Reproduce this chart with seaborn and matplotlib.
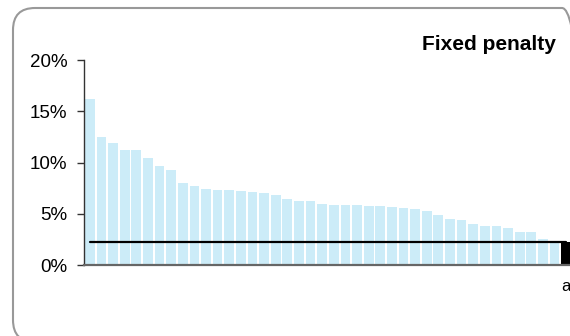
import numpy as np
import pandas as pd
import matplotlib
matplotlib.use('Agg')
import matplotlib.pyplot as plt
from matplotlib.patches import FancyBboxPatch
import seaborn as sns

# Values (percent), sorted high to low; last bar is the average
values = [16.2, 12.5, 11.9, 11.2, 11.2, 10.4, 9.7, 9.3, 8.0, 7.7,
          7.4, 7.3, 7.3, 7.2, 7.1, 7.0, 6.8, 6.4, 6.2, 6.2,
          6.0, 5.9, 5.9, 5.9, 5.8, 5.8, 5.7, 5.6, 5.5, 5.3,
          4.9, 4.5, 4.4, 4.0, 3.8, 3.8, 3.6, 3.2, 3.2, 2.5,
          2.3, 2.2]
average = 2.2
categories = [str(i) for i in range(1, len(values) + 1)]
tick_labels = [''] * (len(values) - 1) + ['a']
bar_colors = ['#CCECF8'] * (len(values) - 1) + ['#000000']
y_ticks = [0, 5, 10, 15, 20]
title = 'Fixed penalty'

df = pd.DataFrame({'cat': categories, 'val': values})

sns.set_style('white')
plt.rcParams['font.family'] = ['Liberation Sans', 'DejaVu Sans']
plt.rcParams['text.color'] = 'black'
plt.rcParams['xtick.color'] = 'black'
plt.rcParams['ytick.color'] = 'black'

fig = plt.figure(figsize=(5.7, 3.36), dpi=100)
ax = fig.add_axes([0.1474, 0.2113, 0.856, 0.6101])

sns.barplot(data=df, x='cat', y='val', hue='cat', palette=bar_colors,
            legend=False, width=0.84, saturation=1, linewidth=0, ax=ax)

# average line across all categories
ax.plot(np.arange(len(values)), [average] * len(values), color='black', lw=1.6, zorder=3)

ax.set_xlim(-0.5, len(values) - 0.5)
ax.set_ylim(0, 20)
ax.set_yticks(y_ticks)
ax.set_yticklabels([f'{t}%' for t in y_ticks])
ax.set_xticks(range(len(values)))
ax.set_xticklabels(tick_labels)
ax.set_xlabel('')
ax.set_ylabel('')

ax.tick_params(axis='y', direction='out', length=5, width=1, color='#333333',
               labelcolor='black', pad=7, labelsize=13.5, left=True)
ax.tick_params(axis='x', length=0, pad=10, labelsize=12, labelcolor='black')

for s in ['top', 'right']:
    ax.spines[s].set_visible(False)
ax.spines['left'].set_color('#333333')
ax.spines['left'].set_linewidth(1)
ax.spines['bottom'].set_color('#666666')
ax.spines['bottom'].set_linewidth(1.6)

fig.text(0.975, 0.851, title, ha='right', va='baseline', color='black',
         fontsize=15, fontweight='bold')

# rounded frame around the chart
frame = FancyBboxPatch((0.13, -0.06), 5.71, 3.34,
                       boxstyle='round,pad=0,rounding_size=0.22',
                       transform=fig.dpi_scale_trans, facecolor='none',
                       edgecolor='#999999', linewidth=1.5, clip_on=False)
fig.add_artist(frame)

fig.savefig('out.png', dpi=100)
